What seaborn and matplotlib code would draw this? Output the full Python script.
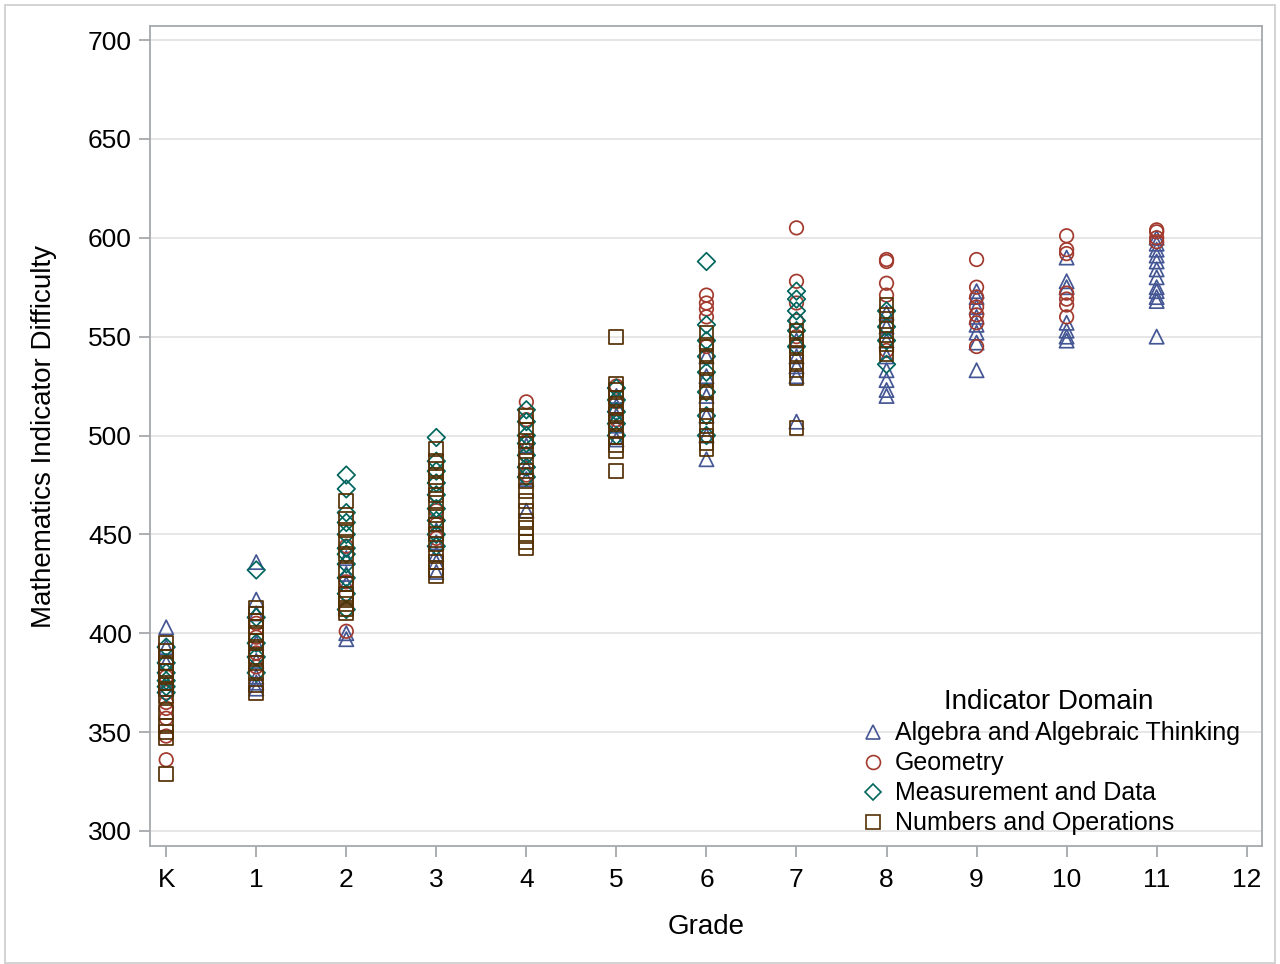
import matplotlib
matplotlib.use("Agg")
import matplotlib.pyplot as plt
from matplotlib.lines import Line2D
from matplotlib.patches import Rectangle
import numpy as np
import pandas as pd
import seaborn as sns

# Grade positions: 0 = Kindergarten, 1..11 = grades
grade_labels = ["K", "1", "2", "3", "4", "5", "6", "7", "8", "9", "10", "11", "12"]

domains = ["Algebra and Algebraic Thinking", "Geometry",
           "Measurement and Data", "Numbers and Operations"]

# Indicator difficulties per grade, one dict per domain
algebra = {
    0: [403, 393, 385, 375, 372],
    1: [436, 417, 410, 395, 386, 378, 375, 372],
    2: [397, 400, 425, 430, 438],
    3: [431, 436, 440, 446, 452],
    4: [462, 478, 484, 495],
    5: [498, 505, 510, 515, 520],
    6: [488, 500, 510, 520, 530, 540],
    7: [507, 530, 535, 540, 548],
    8: [520, 523, 528, 533, 540, 548, 555, 562],
    9: [533, 547, 552, 556, 560, 565, 570, 573],
    10: [590, 578, 575, 557, 553, 550, 548],
    11: [550, 568, 570, 573, 575, 580, 584, 588, 591, 594, 597, 600],
}
geometry = {
    0: [336, 348, 357, 362, 365, 370, 378, 385],
    1: [405, 398, 390, 383],
    2: [401, 412, 420, 426, 444],
    3: [470, 462, 455, 448],
    4: [517, 508, 497, 490, 480],
    5: [525, 517, 508],
    6: [571, 567, 564, 560, 545],
    7: [605, 578, 567, 558, 550],
    8: [589, 588, 577, 571, 555, 548, 543],
    9: [589, 575, 570, 565, 561, 557, 545],
    10: [601, 594, 592, 572, 569, 566, 560],
    11: [604, 603, 600, 598],
}
measurement = {
    0: [393, 385, 380, 376, 373, 370],
    1: [432, 408, 395, 388, 380],
    2: [480, 473, 461, 456, 450, 443, 440, 435, 428, 420, 412],
    3: [499, 487, 482, 476, 470, 463, 457, 450, 444],
    4: [513, 507, 500, 496, 490, 484, 479],
    5: [524, 518, 512, 506, 500],
    6: [588, 556, 548, 540, 532, 522, 510, 500],
    7: [573, 569, 563, 558, 553, 545],
    8: [563, 555, 548, 536],
}
numbers = {
    0: [329, 347, 350, 353, 360, 368, 372, 375, 378, 381, 385, 388, 391, 395],
    1: [370, 374, 380, 385, 388, 392, 396, 400, 403, 406, 410, 413],
    2: [467, 458, 452, 446, 440, 432, 425, 420, 418, 415, 412, 410],
    3: [493, 487, 483, 479, 475, 470, 466, 460, 455, 450, 445, 440, 436, 432, 429],
    4: [510, 503, 497, 492, 487, 482, 477, 472, 467, 462, 457, 453, 449, 446, 443],
    5: [550, 526, 523, 519, 515, 511, 507, 503, 499, 495, 492, 482],
    6: [552, 546, 540, 534, 528, 522, 516, 510, 505, 500, 496, 493],
    7: [553, 549, 545, 541, 537, 533, 529, 504],
    8: [566, 561, 556, 551, 546, 541],
}

colors = ["#445694", "#A23A2E", "#01665E", "#543005"]
markers = ["^", "o", "D", "s"]
marker_sizes = [105, 95, 80, 100]

rows = []
for dom, table in zip(domains, [algebra, geometry, measurement, numbers]):
    for g, vals in table.items():
        for v in vals:
            rows.append({"Grade": g, "Difficulty": v, "Domain": dom})
df = pd.DataFrame(rows)

sns.set_theme(style="white", rc={"text.color": "black",
                                 "axes.labelcolor": "black",
                                 "xtick.color": "black",
                                 "ytick.color": "black"})
plt.rcParams["font.family"] = ["Liberation Sans", "DejaVu Sans"]

fig = plt.figure(figsize=(12.8, 9.64), dpi=100)
ax = fig.add_axes([150 / 1280, 1 - 846 / 964, 1112 / 1280, 820 / 964])

for dom, col, mk, sz in zip(domains, colors, markers, marker_sizes):
    sub = df[df["Domain"] == dom]
    sns.scatterplot(data=sub, x="Grade", y="Difficulty", ax=ax,
                    marker=mk, s=sz, color=col, facecolor="none",
                    edgecolor=col, linewidth=1.25, legend=False, zorder=3)

ax.set_xlim(-0.18, 12.17)
ax.set_ylim(292.4, 707.1)
ax.set_xticks(range(len(grade_labels)))
ax.set_xticklabels(grade_labels)
ax.set_yticks(np.arange(300, 701, 50))

ax.yaxis.grid(True, color="#e4e4e4", linewidth=1.3)
ax.xaxis.grid(False)
ax.set_axisbelow(True)

for side in ["left", "right", "top", "bottom"]:
    ax.spines[side].set_color("#a6a9ad")
    ax.spines[side].set_linewidth(1.3)

ax.tick_params(axis="both", which="major", direction="out", length=8,
               width=1.3, color="#a6a9ad", labelsize=19, labelcolor="black",
               pad=5)
ax.tick_params(axis="x", bottom=True, pad=8)
ax.tick_params(axis="y", left=True)

ax.set_xlabel("Grade", fontsize=20, labelpad=16)
ax.set_ylabel("Mathematics Indicator Difficulty", fontsize=20, labelpad=22)

handles = [Line2D([0], [0], linestyle="none", marker=mk, markersize=ms,
                  markerfacecolor="none", markeredgecolor=col,
                  markeredgewidth=1.2)
           for mk, col, ms in zip(markers, colors, [10, 10, 8, 10])]
leg = ax.legend(handles, domains, title="Indicator Domain", loc="lower right",
                bbox_to_anchor=(0.995, -0.007), frameon=False, fontsize=18,
                title_fontsize=20, handletextpad=0.3, labelspacing=0.24,
                handlelength=1.2, borderaxespad=0.25)

fig.patches.append(Rectangle((5 / 1280, 1 / 964), 1270 / 1280, 958 / 964,
                             transform=fig.transFigure, fill=False,
                             edgecolor="#d0d0d0", linewidth=1.3))

fig.savefig("out.png", dpi=100)
